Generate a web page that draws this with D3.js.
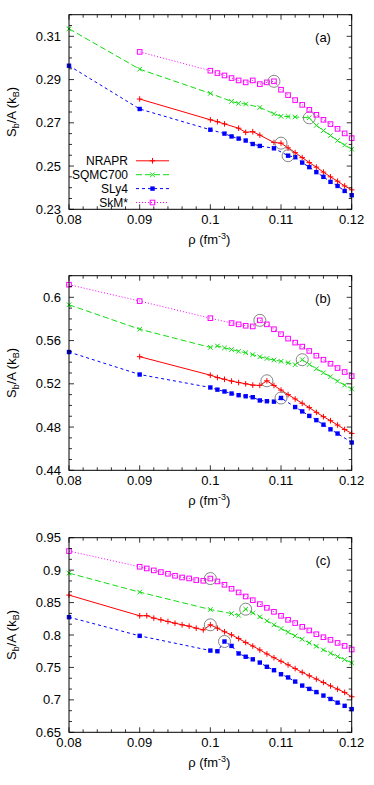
<!DOCTYPE html>
<html><head><meta charset="utf-8">
<script src="https://cdn.jsdelivr.net/npm/d3@7/dist/d3.min.js"></script>
<style>
html,body{margin:0;padding:0;background:#fff;}
svg{display:block;font-family:"Liberation Sans",Arial,Helvetica,sans-serif;}
</style></head><body>
<svg id="chart" width="374" height="785"></svg>
<script>
// ---------- data ----------
const seriesNames = ["NRAPR", "SQMC700", "SLy4", "SkM*"];
const xTickValues = [0.08, 0.09, 0.1, 0.11, 0.12];
const panelLabels = ["(a)", "(b)", "(c)"];

// panel (a)
const aNRAPR_x = [0.09,0.1,0.101,0.102,0.104,0.105,0.106,0.107,0.109,0.110,0.111,0.112,0.113,0.114,0.115,0.116,0.117,0.118,0.119,0.12];
const aNRAPR_y = [0.2810,0.2714,0.2705,0.2695,0.2675,0.2656,0.2659,0.2643,0.2609,0.2606,0.2584,0.2562,0.2539,0.2516,0.2495,0.2472,0.2450,0.2430,0.2408,0.2390];
const aSQMC_x = [0.08,0.09,0.1,0.103,0.104,0.105,0.107,0.109,0.110,0.111,0.112,0.114,0.115,0.116,0.117,0.118,0.119,0.12];
const aSQMC_y = [0.3135,0.2948,0.2836,0.2799,0.2790,0.2787,0.2771,0.2742,0.2730,0.2729,0.2727,0.2723,0.2688,0.2664,0.2641,0.2618,0.2597,0.2578];
const aSLy4_x = [0.08,0.09,0.1,0.102,0.103,0.104,0.105,0.106,0.107,0.109,0.111,0.112,0.113,0.114,0.115,0.116,0.117,0.118,0.119,0.12];
const aSLy4_y = [0.2964,0.2764,0.2668,0.2650,0.2637,0.2627,0.2618,0.2602,0.2593,0.2582,0.2548,0.2541,0.2516,0.2495,0.2472,0.2450,0.2427,0.2408,0.2385,0.2365];
const aSkM_x = [0.09,0.1,0.101,0.102,0.103,0.104,0.105,0.106,0.107,0.108,0.109,0.110,0.111,0.112,0.113,0.114,0.115,0.116,0.117,0.118,0.119,0.12];
const aSkM_y = [0.3028,0.2941,0.2930,0.2919,0.2907,0.2896,0.2887,0.2896,0.2879,0.2887,0.2892,0.2853,0.2828,0.2805,0.2783,0.2760,0.2737,0.2714,0.2694,0.2672,0.2651,0.2629];
const aCircled = [0.110, 0.114, 0.111, 0.109];

// panel (b)
const bNRAPR_x = [0.09,0.1,0.101,0.102,0.103,0.104,0.105,0.106,0.107,0.108,0.109,0.110,0.111,0.112,0.113,0.114,0.115,0.116,0.117,0.118,0.119,0.12];
const bNRAPR_y = [0.5451,0.5280,0.5258,0.5242,0.5225,0.5212,0.5200,0.5188,0.5185,0.5228,0.5185,0.5142,0.5100,0.5060,0.5020,0.4980,0.4936,0.4896,0.4859,0.4819,0.4778,0.4741];
const bSQMC_x = [0.08,0.09,0.1,0.101,0.102,0.103,0.104,0.105,0.106,0.107,0.108,0.109,0.110,0.111,0.112,0.113,0.114,0.115,0.116,0.117,0.118,0.119,0.12];
const bSQMC_y = [0.5931,0.5705,0.5537,0.5550,0.5532,0.5517,0.5501,0.5488,0.5470,0.5450,0.5434,0.5420,0.5408,0.5395,0.5377,0.5423,0.5380,0.5339,0.5302,0.5265,0.5225,0.5188,0.5153];
const bSLy4_x = [0.08,0.09,0.1,0.101,0.102,0.103,0.104,0.105,0.106,0.107,0.108,0.109,0.110,0.112,0.113,0.114,0.115,0.116,0.117,0.118,0.12];
const bSLy4_y = [0.5494,0.5286,0.5166,0.5146,0.5129,0.5110,0.5095,0.5085,0.5076,0.5046,0.5039,0.5035,0.5069,0.4985,0.4945,0.4903,0.4864,0.4822,0.4779,0.4740,0.4657];
const bSkM_x = [0.08,0.09,0.1,0.103,0.104,0.105,0.106,0.107,0.108,0.109,0.110,0.111,0.112,0.113,0.114,0.115,0.116,0.117,0.118,0.119,0.12];
const bSkM_y = [0.6117,0.5965,0.5807,0.5762,0.5750,0.5737,0.5731,0.5787,0.5750,0.5705,0.5659,0.5618,0.5581,0.5544,0.5504,0.5460,0.5423,0.5386,0.5346,0.5309,0.5271];
const bCircled = [0.108, 0.113, 0.110, 0.107];

// panel (c)
const cNRAPR_x = [0.08,0.09,0.091,0.092,0.093,0.094,0.095,0.096,0.097,0.098,0.099,0.1,0.101,0.102,0.103,0.104,0.105,0.106,0.107,0.108,0.109,0.110,0.111,0.112,0.113,0.114,0.115,0.116,0.117,0.118,0.119,0.12];
const cNRAPR_y = [0.8615,0.8296,0.8298,0.8260,0.8234,0.8208,0.8182,0.8157,0.8136,0.8105,0.8079,0.8157,0.8105,0.8050,0.8002,0.7945,0.7885,0.7830,0.7770,0.7708,0.7650,0.7595,0.7540,0.7482,0.7425,0.7372,0.7320,0.7268,0.7215,0.7165,0.7115,0.7048];
const cSQMC_x = [0.08,0.09,0.1,0.103,0.104,0.105,0.106,0.107,0.108,0.109,0.110,0.111,0.112,0.113,0.114,0.115,0.116,0.117,0.118,0.119,0.12];
const cSQMC_y = [0.8954,0.8661,0.8393,0.8330,0.8303,0.8398,0.8340,0.8280,0.8218,0.8157,0.8100,0.8043,0.7987,0.7935,0.7878,0.7827,0.7770,0.7719,0.7668,0.7621,0.7570];
const cSLy4_x = [0.08,0.09,0.1,0.101,0.102,0.103,0.104,0.105,0.106,0.107,0.108,0.109,0.110,0.111,0.112,0.113,0.114,0.115,0.116,0.117,0.118,0.119,0.12];
const cSLy4_y = [0.8275,0.7987,0.7760,0.7750,0.7900,0.7832,0.7715,0.7665,0.7625,0.7575,0.7510,0.7457,0.7395,0.7346,0.7282,0.7220,0.7169,0.7120,0.7066,0.7014,0.6957,0.6908,0.6857];
const cSkM_x = [0.08,0.09,0.091,0.092,0.093,0.094,0.095,0.096,0.097,0.098,0.099,0.1,0.101,0.102,0.103,0.104,0.105,0.106,0.107,0.108,0.109,0.110,0.111,0.112,0.113,0.114,0.115,0.116,0.117,0.118,0.119,0.12];
const cSkM_y = [0.9294,0.9052,0.9026,0.8996,0.8970,0.8944,0.8913,0.8887,0.8872,0.8846,0.8836,0.8870,0.8826,0.8774,0.8713,0.8656,0.8594,0.8537,0.8476,0.8419,0.8357,0.8296,0.8234,0.8184,0.8126,0.8070,0.8012,0.7966,0.7925,0.7878,0.7832,0.7776];
const cCircled = [0.100, 0.105, 0.102, 0.100];

const yTicksA = [0.23, 0.25, 0.27, 0.29, 0.31];
const yTicksB = [0.44, 0.48, 0.52, 0.56, 0.6];
const yTicksC = [0.65, 0.7, 0.75, 0.8, 0.85, 0.9, 0.95];

// ---------- styling ----------
const colors = ["#ff0000", "#11dd11", "#0000ff", "#ff00ff"];
const dashes = [null, "6,3", "3,3", "1,2"];

const panels = [
  {label: panelLabels[0], top: 14.7, yDomain: [0.23, 0.32], yTicks: yTicksA, yMinor: 0.005,
   xs: [aNRAPR_x, aSQMC_x, aSLy4_x, aSkM_x], ys: [aNRAPR_y, aSQMC_y, aSLy4_y, aSkM_y], circ: aCircled, legend: true},
  {label: panelLabels[1], top: 275.7, yDomain: [0.44, 0.62], yTicks: yTicksB, yMinor: 0.01,
   xs: [bNRAPR_x, bSQMC_x, bSLy4_x, bSkM_x], ys: [bNRAPR_y, bSQMC_y, bSLy4_y, bSkM_y], circ: bCircled, legend: false},
  {label: panelLabels[2], top: 537.7, yDomain: [0.65, 0.95], yTicks: yTicksC, yMinor: 0.05/3,
   xs: [cNRAPR_x, cSQMC_x, cSLy4_x, cSkM_x], ys: [cNRAPR_y, cSQMC_y, cSLy4_y, cSkM_y], circ: cCircled, legend: false}
];

const L = 69, R = 351.7, H = 194.6;
const svg = d3.select("#chart");
const fmt = v => String(+v.toFixed(4));

function marker(g, type, cx, cy, color) {
  if (type === 0) { // plus
    g.append("path").attr("d", `M${cx-2.8},${cy}H${cx+2.8}M${cx},${cy-2.8}V${cy+2.8}`)
      .attr("stroke", color).attr("stroke-width", 1).attr("fill", "none");
  } else if (type === 1) { // x
    g.append("path").attr("d", `M${cx-2.3},${cy-2.3}L${cx+2.3},${cy+2.3}M${cx-2.3},${cy+2.3}L${cx+2.3},${cy-2.3}`)
      .attr("stroke", color).attr("stroke-width", 1).attr("fill", "none");
  } else if (type === 2) { // filled square
    g.append("rect").attr("x", cx-2.2).attr("y", cy-2.2).attr("width", 4.4).attr("height", 4.4)
      .attr("fill", color);
  } else { // open square
    g.append("rect").attr("x", cx-2.3).attr("y", cy-2.3).attr("width", 4.6).attr("height", 4.6)
      .attr("fill", "none").attr("stroke", color).attr("stroke-width", 1);
  }
}

panels.forEach(p => {
  const x = d3.scaleLinear().domain([0.08, 0.12]).range([L, R]);
  const y = d3.scaleLinear().domain(p.yDomain).range([p.top + H, p.top]);
  const g = svg.append("g");

  // series lines
  p.xs.forEach((xs, si) => {
    const pts = xs.map((xv, i) => [xv, p.ys[si][i]]);
    const line = d3.line().x(d => x(d[0])).y(d => y(d[1]));
    const path = g.append("path").datum(pts).attr("d", line)
      .attr("fill", "none").attr("stroke", colors[si]).attr("stroke-width", 1);
    if (dashes[si]) path.attr("stroke-dasharray", dashes[si]);
    const mg = g.append("g");
    pts.forEach(d => marker(mg, si, x(d[0]), y(d[1]), colors[si]));
    // circle highlight
    const cxv = p.circ[si];
    const idx = xs.findIndex(v => Math.abs(v - cxv) < 1e-6);
    if (idx >= 0) {
      g.append("circle").attr("cx", x(cxv)).attr("cy", y(p.ys[si][idx])).attr("r", 6)
        .attr("fill", "none").attr("stroke", "#777").attr("stroke-width", 0.9);
    }
  });

  // frame
  g.append("rect").attr("x", L).attr("y", p.top).attr("width", R - L).attr("height", H)
    .attr("fill", "none").attr("stroke", "#000").attr("stroke-width", 1);

  // ticks
  const tk = g.append("g").attr("stroke", "#000").attr("stroke-width", 0.8);
  const xMinor = d3.range(0, 21).map(i => 0.08 + i * 0.002);
  xMinor.forEach((v, i) => {
    const len = (i % 5 === 0) ? 5 : 3;
    const px = x(v);
    tk.append("line").attr("x1", px).attr("x2", px).attr("y1", p.top + H).attr("y2", p.top + H - len);
    tk.append("line").attr("x1", px).attr("x2", px).attr("y1", p.top).attr("y2", p.top + len);
  });
  const nMinor = Math.round((p.yDomain[1] - p.yDomain[0]) / p.yMinor);
  for (let i = 0; i <= nMinor; i++) {
    const v = p.yDomain[0] + i * p.yMinor;
    const isMajor = p.yTicks.some(t => Math.abs(t - v) < 1e-6);
    const len = isMajor ? 5 : 3;
    const py = y(v);
    tk.append("line").attr("x1", L).attr("x2", L + len).attr("y1", py).attr("y2", py);
    tk.append("line").attr("x1", R).attr("x2", R - len).attr("y1", py).attr("y2", py);
  }

  // tick labels
  xTickValues.forEach(v => {
    g.append("text").attr("x", x(v)).attr("y", p.top + H + 15).attr("text-anchor", "middle")
      .attr("font-size", 13).text(fmt(v));
  });
  p.yTicks.forEach(v => {
    g.append("text").attr("x", L - 8).attr("y", y(v) + 4.5).attr("text-anchor", "end")
      .attr("font-size", 13).text(fmt(v));
  });

  // axis titles
  const xt = g.append("text").attr("x", (L + R) / 2 - 1).attr("y", p.top + H + 35)
    .attr("text-anchor", "middle").attr("font-size", 13);
  xt.append("tspan").text("ρ (fm");
  xt.append("tspan").attr("font-size", 9).attr("dy", -5).text("-3");
  xt.append("tspan").attr("dy", 5).text(")");

  const cy = p.top + H / 2;
  const yt = g.append("text").attr("transform", `translate(16,${cy}) rotate(-90)`)
    .attr("text-anchor", "middle").attr("font-size", 13);
  yt.append("tspan").text("S");
  yt.append("tspan").attr("font-size", 9).attr("dy", 3).text("b");
  yt.append("tspan").attr("dy", -3).text("/A (k");
  yt.append("tspan").attr("font-size", 9).attr("dy", 3).text("B");
  yt.append("tspan").attr("dy", -3).text(")");

  // panel label
  g.append("text").attr("x", 323).attr("y", p.top + 27).attr("text-anchor", "middle")
    .attr("font-size", 13).text(p.label);

  // legend
  if (p.legend) {
    const ly = [160.8, 174.7, 188.6, 202.5];
    seriesNames.forEach((n, si) => {
      g.append("text").attr("x", 128).attr("y", ly[si] + 4.2).attr("text-anchor", "end")
        .attr("font-size", 12).text(n);
      const ln = g.append("line").attr("x1", 136).attr("x2", 169).attr("y1", ly[si]).attr("y2", ly[si])
        .attr("stroke", colors[si]).attr("stroke-width", 1);
      if (dashes[si]) ln.attr("stroke-dasharray", dashes[si]);
      marker(g, si, 152.5, ly[si], colors[si]);
    });
  }
});
</script>
</body></html>
